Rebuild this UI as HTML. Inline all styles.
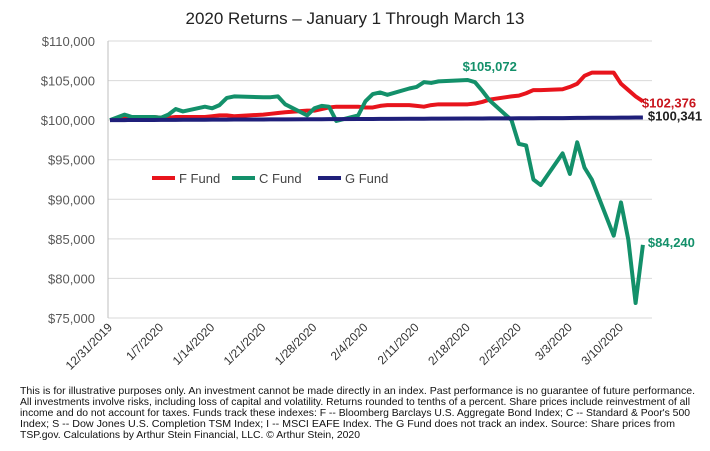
<!DOCTYPE html>
<html><head><meta charset="utf-8"><style>
html,body{margin:0;padding:0;background:#fff;}
svg{display:block;font-family:"Liberation Sans",Arial,sans-serif;}
</style></head><body>
<svg id="chart" width="710" height="451" viewBox="0 0 710 451">
<text x="355" y="24" text-anchor="middle" font-size="17" fill="#222">2020 Returns – January 1 Through March 13</text>
<g id="grid"></g><g id="axes"></g><g id="series"></g>
<g>
<line x1="152" y1="178" x2="175" y2="178" stroke="#e8141c" stroke-width="4"/>
<text x="179" y="183" font-size="13" fill="#444">F Fund</text>
<line x1="232" y1="178" x2="255" y2="178" stroke="#13906a" stroke-width="4"/>
<text x="259" y="183" font-size="13" fill="#444">C Fund</text>
<line x1="318" y1="178" x2="341" y2="178" stroke="#1f1f7a" stroke-width="4"/>
<text x="345" y="183" font-size="13" fill="#444">G Fund</text>
</g>
<g id="labels"></g>
<g font-size="10.2" fill="#111">
<text x="20" y="394" textLength="675" lengthAdjust="spacingAndGlyphs">This is for illustrative purposes only. An investment cannot be made directly in an index. Past performance is no guarantee of future performance.</text>
<text x="20" y="405" textLength="670" lengthAdjust="spacingAndGlyphs">All investments involve risks, including loss of capital and volatility. Returns rounded to tenths of a percent. Share prices include reinvestment of all</text>
<text x="20" y="416" textLength="670" lengthAdjust="spacingAndGlyphs">income and do not account for taxes. Funds track these indexes: F -- Bloomberg Barclays U.S. Aggregate Bond Index; C -- Standard &amp; Poor's 500</text>
<text x="20" y="427" textLength="655" lengthAdjust="spacingAndGlyphs">Index; S -- Dow Jones U.S. Completion TSM Index; I -- MSCI EAFE Index. The G Fund does not track an index. Source: Share prices from</text>
<text x="20" y="438" textLength="340" lengthAdjust="spacingAndGlyphs">TSP.gov. Calculations by Arthur Stein Financial, LLC. © Arthur Stein, 2020</text>
</g>
</svg>
<script>
const days = [0,2,3,6,7,8,9,10,13,14,15,16,17,21,22,23,24,27,28,29,30,31,34,35,36,37,38,41,42,43,44,45,49,50,51,52,55,56,57,58,59,62,63,64,65,66,69,70,71,72,73];
const cFund = [100000,100700,100400,100400,100300,100700,101400,101100,101700,101500,101900,102800,103000,102900,102900,103000,102000,100600,101500,101800,101700,99900,100600,102400,103300,103500,103200,104000,104200,104800,104700,104900,105072,104800,103700,102500,100000,97000,96800,92500,91800,95800,93200,97200,94000,92500,85400,89600,84900,76900,84240];
const fFund = [100000,100300,100400,100400,100300,100300,100400,100400,100400,100500,100600,100600,100500,100700,100800,100900,101000,101200,101200,101400,101600,101700,101700,101600,101600,101800,101900,101900,101800,101700,101900,102000,102000,102100,102300,102600,103000,103100,103400,103800,103800,103900,104200,104600,105600,106000,106000,104600,103800,103000,102376];
const gFund = [100000,100010,100015,100020,100030,100035,100040,100045,100055,100060,100065,100070,100075,100085,100090,100095,100100,100110,100115,100120,100125,100130,100140,100145,100150,100155,100160,100170,100175,100180,100185,100190,100205,100210,100215,100220,100230,100235,100240,100245,100250,100260,100270,100280,100290,100300,100310,100320,100325,100335,100341];
const yTicks = [75000,80000,85000,90000,95000,100000,105000,110000];
const tickDays = [0,7,14,21,28,35,42,49,56,63,70];
const tickLabels = ["12/31/2019","1/7/2020","1/14/2020","1/21/2020","1/28/2020","2/4/2020","2/11/2020","2/18/2020","2/25/2020","3/3/2020","3/10/2020"];
const NS="http://www.w3.org/2000/svg";
const x = d => 110 + d*7.3;
const y = v => 318 - (v-75000)/35000*277;
function mk(tag, attrs, parent){const e=document.createElementNS(NS,tag);for(const k in attrs)e.setAttribute(k,attrs[k]);parent.appendChild(e);return e;}
const grid=document.getElementById('grid'), axes=document.getElementById('axes'), series=document.getElementById('series'), labels=document.getElementById('labels');
yTicks.forEach(v=>{
  const l=mk('line',{x1:108,x2:652,y1:y(v),y2:y(v),stroke:'#d9d9d9','stroke-width':1},grid);
  
  
  const t=mk('text',{x:95,y:y(v)+5,'text-anchor':'end','font-size':13,fill:'#595959'},axes);
  t.textContent='$'+v.toLocaleString('en-US');
  
  
});
const ax=mk('line',{x1:108,x2:108,y1:y(110000),y2:y(75000),stroke:'#bfbfbf','stroke-width':1},axes);


tickDays.forEach((d,i)=>{
  const t=mk('text',{x:x(d)+3,y:328,'text-anchor':'end','font-size':12,fill:'#333',transform:`rotate(-45 ${x(d)+3} 328)`},axes);
  t.textContent=tickLabels[i];
  
  
});
function line(vals,color,name){
  const p=mk('polyline',{points:vals.map((v,i)=>x(days[i])+','+y(v)).join(' '),fill:'none',stroke:color,'stroke-width':4,'stroke-linejoin':'round'},series);
  
  
}
line(fFund,'#e8141c','f-fund-line');
line(cFund,'#13906a','c-fund-line');
line(gFund,'#1f1f7a','g-fund-line');
function lab(txt,xx,yy,color,anchor,name){
  const t=mk('text',{x:xx,y:yy,'font-size':13,'font-weight':'bold',fill:color,'text-anchor':anchor},labels);
  t.textContent=txt;
  
  
}
const n=days.length-1;
let pk=0;cFund.forEach((v,i)=>{if(v>cFund[pk])pk=i;});
lab('$'+cFund[pk].toLocaleString('en-US'),x(days[pk])+22,y(cFund[pk])-9,'#13906a','middle','c-fund-peak-label');
lab('$'+fFund[n].toLocaleString('en-US'),x(days[n])-1,y(fFund[n])+6,'#c8141c','start','f-fund-end-label');
lab('$'+gFund[n].toLocaleString('en-US'),x(days[n])+5,y(gFund[n])+3,'#222','start','g-fund-end-label');
lab('$'+cFund[n].toLocaleString('en-US'),x(days[n])+5,y(cFund[n])+2,'#13906a','start','c-fund-end-label');
</script>
</body></html>
